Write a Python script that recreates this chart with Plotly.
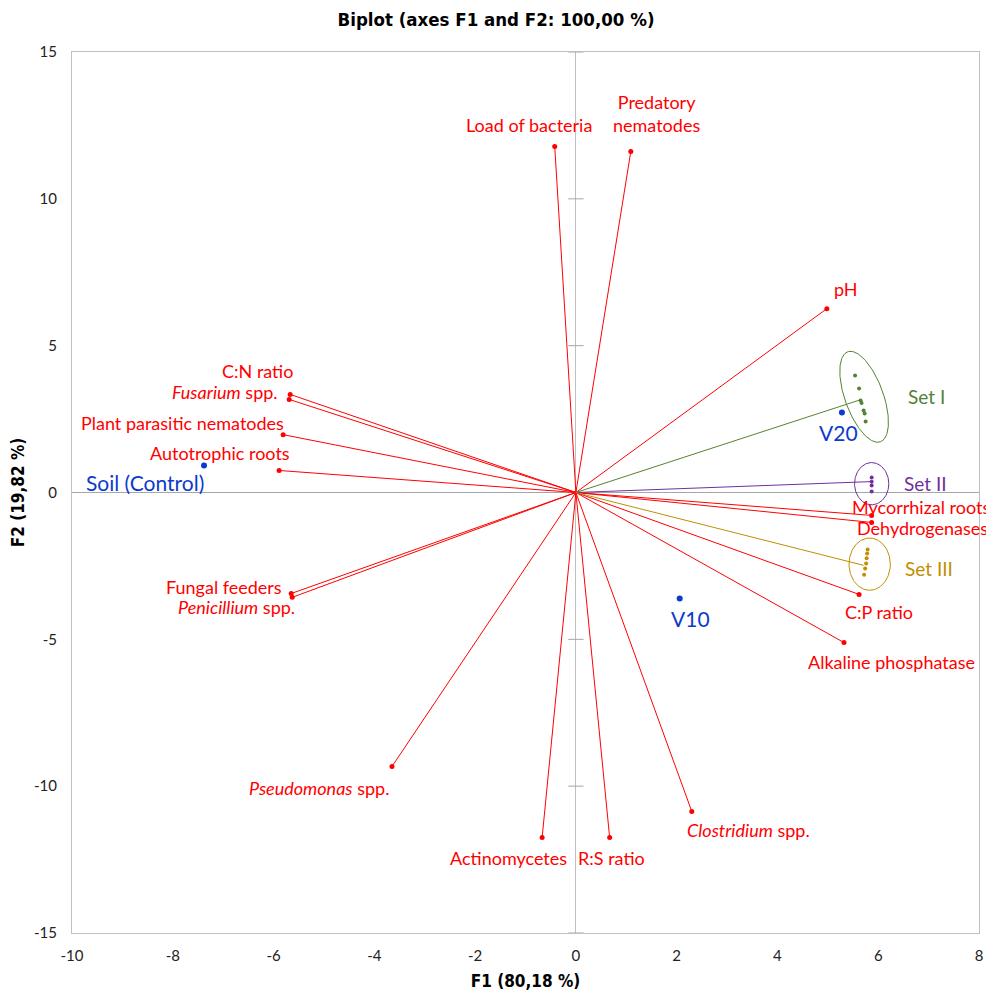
import numpy as np
import plotly.graph_objects as go

# ---------------- data ----------------
var_names = ["Load of bacteria", "Predatory<br>nematodes", "pH", "C:N ratio", "<i>Fusarium</i> spp.",
             "Plant parasitic nematodes", "Autotrophic roots", "Fungal feeders", "<i>Penicillium</i> spp.",
             "<i>Pseudomonas</i> spp.", "Actinomycetes", "R:S ratio", "<i>Clostridium</i> spp.",
             "Alkaline phosphatase", "C:P ratio", "Mycorrhizal roots", "Dehydrogenases"]
var_f1 = [-0.42, 1.09, 4.98, -5.67, -5.69, -5.81, -5.89, -5.65, -5.63, -3.65, -0.67, 0.67, 2.30,
          5.32, 5.62, 5.87, 5.87]
var_f2 = [11.78, 11.61, 6.26, 3.34, 3.17, 1.97, 0.75, -3.44, -3.57, -9.33, -11.75, -11.75, -10.86,
          -5.11, -3.47, -0.78, -1.02]

obs_names = ["Soil (Control)", "V10", "V20"]
obs_f1 = [-7.38, 2.06, 5.28]
obs_f2 = [0.92, -3.61, 2.72]

set_names = ["Set I", "Set II", "Set III"]
set1_f1 = [5.54, 5.62, 5.65, 5.67, 5.71, 5.73, 5.75]
set1_f2 = [3.98, 3.54, 3.13, 3.05, 2.79, 2.69, 2.42]
set2_f1 = [5.87, 5.87, 5.87, 5.87]
set2_f2 = [0.51, 0.37, 0.24, 0.03]
set3_f1 = [5.79, 5.78, 5.77, 5.76, 5.74, 5.72]
set3_f2 = [-1.94, -2.08, -2.24, -2.42, -2.59, -2.80]
set_centroid_f1 = [5.67, 5.85, 5.71]
set_centroid_f2 = [3.17, 0.37, -2.48]

# ellipse params: center x, center y, rx, ry, shear
ell_cx = [5.72, 5.87, 5.83]
ell_cy = [3.26, 0.30, -2.44]
ell_rx = [0.40, 0.34, 0.41]
ell_ry = [1.55, 0.72, 0.89]
ell_k = [-0.27, 0.0, 0.0]

x_ticks = [-10, -8, -6, -4, -2, 0, 2, 4, 6, 8]
x_tick_labels = ["-10", "-8", "-6", "-4", "-2", "0", "2", "4", "6", "8"]
y_ticks = [-15, -10, -5, 0, 5, 10, 15]
y_tick_labels = ["-15", "-10", "-5", "0", "5", "10", "15"]

set_colors = ["#548235", "#7030a0", "#bf8f00"]
RED = "#ff0000"
BLUE = "#0b3bcc"
AXIS_GREY = "#a6a6a6"

label_font = "Lato, 'Open Sans', sans-serif"
narrow_font = "'DejaVu Sans Condensed', 'Liberation Sans Narrow', sans-serif"

fig = go.Figure()

# tick marks on the vertical zero line
fig.add_trace(go.Scatter(x=[0] * len(y_ticks), y=y_ticks, mode="markers",
                         marker=dict(symbol="line-ew", size=11, line=dict(color=AXIS_GREY, width=1)),
                         showlegend=False, hoverinfo="skip"))

# variable vectors
for xv, yv in zip(var_f1, var_f2):
    fig.add_trace(go.Scatter(x=[0, xv], y=[0, yv], mode="lines",
                             line=dict(color=RED, width=1), showlegend=False, hoverinfo="skip"))
fig.add_trace(go.Scatter(x=var_f1, y=var_f2, mode="markers",
                         marker=dict(color=RED, size=5), showlegend=False))

# set vectors
for cx, cy, col in zip(set_centroid_f1, set_centroid_f2, set_colors):
    fig.add_trace(go.Scatter(x=[0, cx], y=[0, cy], mode="lines",
                             line=dict(color=col, width=1), showlegend=False, hoverinfo="skip"))

# ellipses
t = np.linspace(0, 2 * np.pi, 200)
for cx, cy, rx, ry, k, col in zip(ell_cx, ell_cy, ell_rx, ell_ry, ell_k, set_colors):
    fig.add_trace(go.Scatter(x=cx + rx * np.cos(t) + k * np.sin(t), y=cy + ry * np.sin(t),
                             mode="lines", line=dict(color=col, width=1),
                             showlegend=False, hoverinfo="skip"))

for xs, ys, col in zip([set1_f1, set2_f1, set3_f1], [set1_f2, set2_f2, set3_f2], set_colors):
    fig.add_trace(go.Scatter(x=xs, y=ys, mode="markers", marker=dict(color=col, size=4),
                             showlegend=False))

# observations
fig.add_trace(go.Scatter(x=obs_f1, y=obs_f2, mode="markers", marker=dict(color=BLUE, size=6),
                         showlegend=False))

# labels
var_label_pos = [  # (xanchor, xshift, yshift)
    ("center", -26, 22), ("center", 26, 38), ("center", 19, 20), ("right", 5, 23),
    ("right", -9, 7), ("right", 3, 12), ("right", 13, 17), ("right", -7, 7),
    ("right", 5, -10), ("right", -1, -22), ("right", 27, -20), ("center", 2, -20),
    ("left", -7, -19), ("left", -38, -19), ("center", 20, -18), ("left", -22, 8),
    ("left", -17, -6),
]
for name, xv, yv, (xa, xs, ys) in zip(var_names, var_f1, var_f2, var_label_pos):
    fig.add_annotation(x=xv, y=yv, text=name, showarrow=False, xanchor=xa, yanchor="middle",
                       xshift=xs, yshift=ys, align="center",
                       font=dict(family=label_font, size=18, color=RED))

obs_label_pos = [("right", 2, -17), ("center", 11, -20), ("center", -3, -20)]
for name, xv, yv, (xa, xs, ys) in zip(obs_names, obs_f1, obs_f2, obs_label_pos):
    fig.add_annotation(x=xv, y=yv, text=name, showarrow=False, xanchor=xa, yanchor="middle",
                       xshift=xs, yshift=ys, font=dict(family=label_font, size=21, color=BLUE))

set_label_shift = [(62, 0), (54, 0), (59, -4)]
for name, cx, cy, col, (xs, ys) in zip(set_names, ell_cx, ell_cy, set_colors, set_label_shift):
    fig.add_annotation(x=cx, y=cy, text=name, showarrow=False, xanchor="center",
                       yanchor="middle", xshift=xs, yshift=ys,
                       font=dict(family=label_font, size=19, color=col))

fig.update_layout(
    width=994, height=992,
    margin=dict(l=64, r=23, t=44, b=67),
    paper_bgcolor="white", plot_bgcolor="white",
    title=dict(text="<b>Biplot (axes F1 and F2: 100,00 %)</b>", x=488 / 994, xanchor="center",
               xref="container", yref="container", y=1 - 12 / 992, yanchor="middle",
               font=dict(family=narrow_font, size=18.5, color="black")),
    showlegend=False,
    xaxis=dict(range=[-10, 8], tickvals=x_ticks, ticktext=x_tick_labels, showgrid=False,
               zeroline=True, zerolinecolor="#bfbfbf", zerolinewidth=1,
               showline=True, mirror=True, linecolor="#c0c0c0", linewidth=1,
               ticks="", ticklabelstandoff=9, automargin=False,
               tickfont=dict(family=label_font, size=15, color="#222222"),
               title=dict(text="<b>F1 (80,18 %)</b>", standoff=12,
                          font=dict(family=narrow_font, size=17, color="black"))),
    yaxis=dict(range=[-15, 15], tickvals=y_ticks, ticktext=y_tick_labels, showgrid=False,
               zeroline=True, zerolinecolor=AXIS_GREY, zerolinewidth=1,
               showline=True, mirror=True, linecolor="#c0c0c0", linewidth=1,
               ticks="", ticklabelstandoff=11, automargin=False,
               tickfont=dict(family=label_font, size=15, color="#222222"),
               title=dict(text="<b>F2 (19,82 %)</b>", standoff=6,
                          font=dict(family=narrow_font, size=17, color="black"))),
)

fig.write_html("out.html")
